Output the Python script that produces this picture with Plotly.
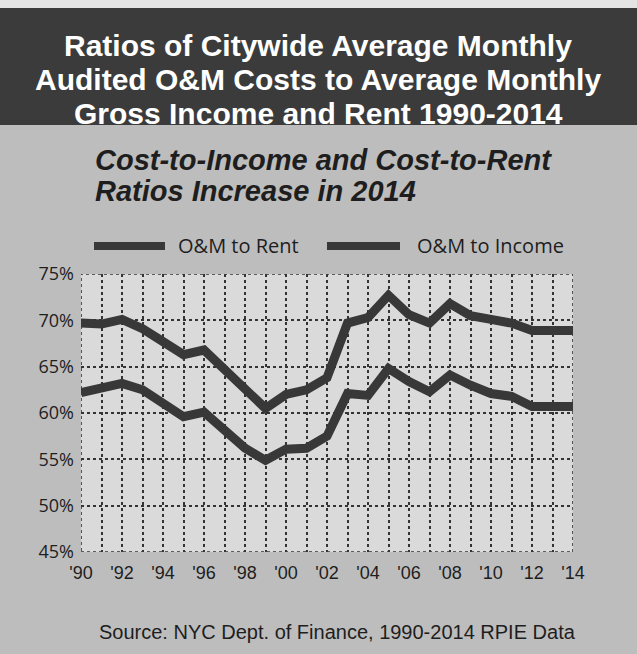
import plotly.graph_objects as go

# Citywide ratios of audited O&M costs, 1990-2014 (percent)
years = list(range(1990, 2015))
om_to_rent = [69.7, 69.6, 70.1, 69.1, 67.7, 66.3, 66.8, 64.6, 62.5, 60.5, 62.0, 62.5, 63.8,
              69.7, 70.3, 72.7, 70.6, 69.7, 71.8, 70.5, 70.1, 69.7, 68.9, 68.9, 68.9]
om_to_income = [62.2, 62.8, 63.2, 62.5, 61.1, 59.6, 60.1, 58.2, 56.2, 54.9, 56.1, 56.2, 57.5,
                62.1, 61.9, 64.8, 63.4, 62.3, 64.1, 63.0, 62.1, 61.8, 60.7, 60.7, 60.7]
series_names = ["O&M to Rent", "O&M to Income"]
x_tick_labels = ["'%02d" % (y % 100) if y % 2 == 0 else "" for y in years]
y_tick_values = [45, 50, 55, 60, 65, 70, 75]
y_tick_labels = ["%d%%" % v for v in y_tick_values]

title_lines = ["Ratios of Citywide Average Monthly",
               "Audited O&M Costs to Average Monthly",
               "Gross Income and Rent 1990-2014"]
subtitle_lines = ["Cost-to-Income and Cost-to-Rent", "Ratios Increase in 2014"]
source_text = "Source: NYC Dept. of Finance, 1990-2014 RPIE Data"

W, H = 637, 654


def px(x):
    return x / W


def py(y):
    return 1 - y / H


LINE_COLOR = "#383838"
GRID_COLOR = "#333333"
BODY_BG = "#bdbdbd"
PLOT_BG = "#dadada"
BAND_BG = "#3b3b3b"

fig = go.Figure()
for name, vals in zip(series_names, [om_to_rent, om_to_income]):
    fig.add_trace(go.Scatter(
        x=years, y=vals, mode="lines", name=name,
        line=dict(color=LINE_COLOR, width=9),
        showlegend=False, hoverinfo="x+y",
    ))

shapes = [
    # light strip above the title band
    dict(type="rect", xref="paper", yref="paper", x0=0, x1=1, y0=py(8), y1=1,
         fillcolor="#e4e4e4", line_width=0, layer="below"),
    # dark title band
    dict(type="rect", xref="paper", yref="paper", x0=0, x1=1, y0=py(125), y1=py(8),
         fillcolor=BAND_BG, line_width=0, layer="below"),
    # dotted frame round the plot area
    dict(type="rect", xref="x", yref="y", x0=1990, x1=2014, y0=45, y1=75,
         line=dict(color=GRID_COLOR, width=1.6, dash="dot"), layer="below"),
]

annotations = []
for i, t in enumerate(title_lines):
    annotations.append(dict(
        text=t, xref="paper", yref="paper", x=px(318), y=py(45 + i * 34),
        xanchor="center", yanchor="middle", showarrow=False,
        font=dict(family="Liberation Sans, Arial", size=30, color="white", weight=700),
    ))
for i, t in enumerate(subtitle_lines):
    annotations.append(dict(
        text="<i>" + t + "</i>", xref="paper", yref="paper", x=px(93), y=py(160 + i * 31),
        xanchor="left", yanchor="middle", showarrow=False,
        font=dict(family="Liberation Sans, Arial", size=29, color="#1e1e1e", weight=700),
    ))

# legend: line sample followed by its label
legend_items = [(94, 165, 176), (327, 400, 415)]
for (s0, s1, tx), name in zip(legend_items, series_names):
    shapes.append(dict(type="line", xref="paper", yref="paper",
                       x0=px(s0), x1=px(s1), y0=py(246), y1=py(246),
                       line=dict(color=LINE_COLOR, width=8)))
    annotations.append(dict(
        text=name, xref="paper", yref="paper", x=px(tx), y=py(246),
        xanchor="left", yanchor="middle", showarrow=False,
        font=dict(family="Open Sans", size=20, color="#1e1e1e"),
    ))

annotations.append(dict(
    text=source_text, xref="paper", yref="paper", x=px(337), y=py(632),
    xanchor="center", yanchor="middle", showarrow=False,
    font=dict(family="Liberation Sans, Arial", size=20, color="#1e1e1e"),
))

fig.update_layout(
    template="none",
    width=W, height=H,
    margin=dict(l=0, r=0, t=0, b=0, pad=0, autoexpand=False),
    paper_bgcolor=BODY_BG,
    plot_bgcolor=PLOT_BG,
    shapes=shapes,
    annotations=annotations,
    xaxis=dict(
        domain=[px(81), px(573)], range=[1990, 2014],
        tickvals=years, ticktext=x_tick_labels,
        showgrid=True, gridcolor=GRID_COLOR, griddash="dot", gridwidth=1.6,
        zeroline=False, showline=False, ticks="", automargin=False,
        ticklabelstandoff=8,
        tickfont=dict(family="Liberation Sans, Arial", size=18, color="#1e1e1e"),
        fixedrange=True,
    ),
    yaxis=dict(
        domain=[py(552), py(274)], range=[45, 75],
        tickvals=y_tick_values, ticktext=y_tick_labels,
        showgrid=True, gridcolor=GRID_COLOR, griddash="dot", gridwidth=1.6,
        zeroline=False, showline=False, ticks="", automargin=False,
        ticklabelstandoff=6,
        tickfont=dict(family="Open Sans", size=18, color="#1e1e1e"),
        fixedrange=True,
    ),
)

fig.write_html("out.html")
